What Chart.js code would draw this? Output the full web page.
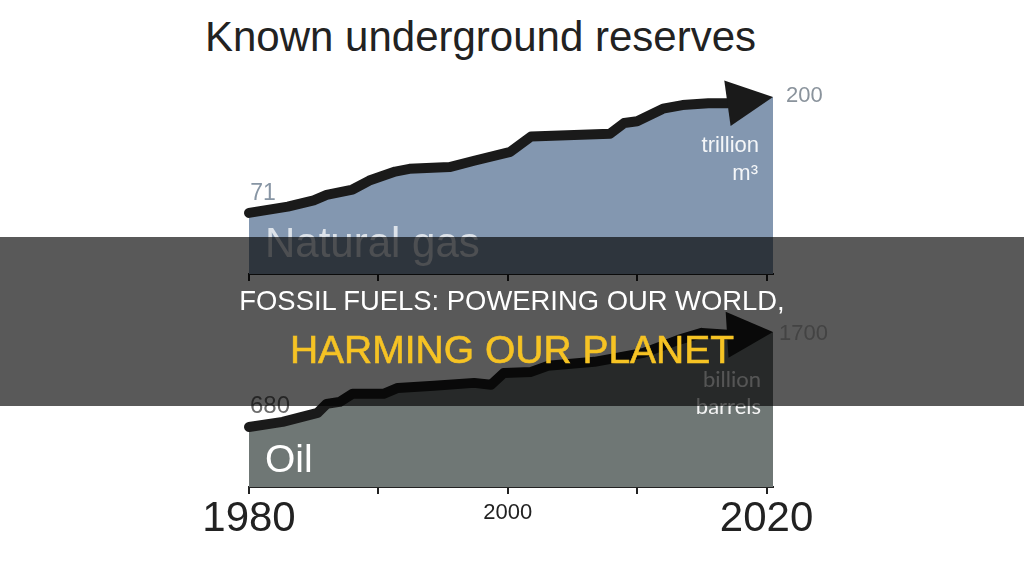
<!DOCTYPE html>
<html>
<head>
<meta charset="utf-8">
<script src="https://cdn.jsdelivr.net/npm/chart.js@4.4.0/dist/chart.umd.min.js"></script>
<style>
  html, body { margin: 0; padding: 0; background: #fff; }
  #wrap { position: relative; width: 1024px; height: 576px; overflow: hidden; background: #fff; }
  canvas { position: absolute; left: 0; }
  #gasChart { top: 0; }
  #oilChart { top: 290px; }
  .title { position: absolute; left: 205px; top: 16px; font: 42px/42px "Liberation Sans", Arial, sans-serif; color: #222; white-space: nowrap; }
  .banner { position: absolute; left: 0; top: 237px; width: 1024px; height: 169px; background: rgba(0,0,0,0.65); }
  .line1, .line2 { position: absolute; left: 0; width: 1024px; text-align: center; font-family: "Liberation Sans", Arial, sans-serif; white-space: nowrap; }
  .line1 { top: 287px; font-size: 27.4px; line-height: 27.4px; color: #fff; }
  .line2 { top: 330px; font-size: 39px; line-height: 39px; color: #f6c324; -webkit-text-stroke: 0.6px #f6c324; }
</style>
</head>
<body>
<div id="wrap">
  <div class="title">Known underground reserves</div>
  <canvas id="gasChart" width="1024" height="290"></canvas>
  <canvas id="oilChart" width="1024" height="286"></canvas>
  <div class="banner"></div>
  <div class="line1">FOSSIL FUELS: POWERING OUR WORLD,</div>
  <div class="line2">HARMING OUR PLANET</div>
</div>
<script>
// x axis
const tickYears = [1980, 1990, 2000, 2010, 2020];
const tickLabels = ['1980', '', '2000', '', '2020'];
const bigYears = [1980, 2020];

// natural gas, trillion m3 (last point = arrow tip)
const gasYears = [1980, 1983, 1985, 1986, 1988, 1989.3, 1991.3, 1992.4, 1995.5, 1997.4, 2000.2, 2001.8, 2007.9, 2009, 2010, 2012, 2013.5, 2015.5, 2017, 2020.5];
const gasValues = [71, 78, 85, 91, 97, 107, 117, 120, 122, 129, 139, 156, 159, 171, 173, 187, 191, 193, 193, 200];

// oil, billion barrels (last point = arrow tip)
const oilYears = [1980, 1982.6, 1985.3, 1986, 1987, 1988, 1990.4, 1991.5, 1994.3, 1997.4, 1998.7, 1999.7, 2001.8, 2003.1, 2006.7, 2010.5, 2013.2, 2015, 2017, 2020.5];
const oilValues = [680, 734, 831, 927, 949, 1035, 1035, 1099, 1121, 1153, 1132, 1260, 1271, 1336, 1379, 1475, 1615, 1690, 1670, 1700];

function toPoints(xs, ys) {
    return xs.map((x, i) => ({ x: x, y: ys[i] }));
}

// arrow head at the end of the line
const arrowPlugin = {
    id: 'arrowHead',
    afterDatasetsDraw(chart) {
        const pts = chart.getDatasetMeta(0).data;
        const tip = pts[pts.length - 1], prev = pts[pts.length - 2];
        const ang = Math.atan2(tip.y - prev.y, tip.x - prev.x);
        const ctx = chart.ctx;
        ctx.save();
        ctx.translate(tip.x, tip.y);
        ctx.rotate(ang);
        ctx.beginPath();
        ctx.moveTo(0, 0);
        ctx.lineTo(-46, -23);
        ctx.lineTo(-46, 23);
        ctx.closePath();
        ctx.fillStyle = '#1a1a1a';
        ctx.fill();
        ctx.restore();
    }
};

// value / unit / name labels, placed relative to the data points
const textPlugin = {
    id: 'textMarks',
    afterDraw(chart, args, opts) {
        const pts = chart.getDatasetMeta(0).data;
        const area = chart.chartArea;
        const ctx = chart.ctx;
        opts.items.forEach(it => {
            let x = area.left, y = area.bottom;
            if (it.at === 'first') { x = pts[0].x; y = pts[0].y; }
            if (it.at === 'last') { x = pts[pts.length - 1].x; y = pts[pts.length - 1].y; }
            ctx.save();
            ctx.font = it.font;
            ctx.fillStyle = it.color;
            ctx.textAlign = it.align || 'left';
            ctx.textBaseline = it.baseline || 'alphabetic';
            ctx.fillText(it.text, x + it.dx, y + it.dy);
            ctx.restore();
        });
    }
};

function xAxis(showLabels) {
    return {
        type: 'linear', min: 1980, max: 2020.5, z: 1,
        afterBuildTicks: s => { s.ticks = tickYears.map(v => ({ value: v })); },
        grid: { drawOnChartArea: false, drawTicks: true, tickLength: 7, color: '#222', lineWidth: 2 },
        border: { display: true, color: '#222', width: 2 },
        ticks: {
            display: showLabels, padding: 0, color: '#222', maxRotation: 0, autoSkip: false,
            callback: v => tickLabels[tickYears.indexOf(v)],
            font: ctx => bigYears.includes(ctx.tick && ctx.tick.value)
                ? { family: '"Liberation Sans", Arial, sans-serif', size: 42, lineHeight: 1.2 }
                : { family: '"Liberation Sans", Arial, sans-serif', size: 22, lineHeight: 1.7 }
        }
    };
}

function makeChart(id, xs, ys, fillColor, yMin, yMax, padding, showLabels, items) {
    return new Chart(document.getElementById(id), {
        type: 'line',
        data: {
            datasets: [{
                // filled area, up to the arrow tip
                data: toPoints(xs, ys),
                borderWidth: 0,
                backgroundColor: fillColor,
                fill: 'start',
                pointRadius: 0,
                tension: 0,
                order: 2
            }, {
                // thick line, ending under the arrow head
                data: toPoints(xs.slice(0, -1), ys.slice(0, -1)),
                borderColor: '#1a1a1a',
                borderWidth: 10,
                borderCapStyle: 'round',
                borderJoinStyle: 'round',
                fill: false,
                pointRadius: 0,
                tension: 0,
                clip: false,
                order: 1
            }]
        },
        options: {
            responsive: false,
            animation: false,
            devicePixelRatio: 1,
            layout: { padding: padding },
            scales: {
                x: xAxis(showLabels),
                y: { display: false, min: yMin, max: yMax }
            },
            plugins: {
                legend: { display: false },
                tooltip: { enabled: false },
                textMarks: { items: items }
            }
        },
        plugins: [arrowPlugin, textPlugin]
    });
}

const sans = '"Liberation Sans", Arial, sans-serif';

makeChart('gasChart', gasYears, gasValues, '#8397b0', 3, 220,
    { left: 249, right: 251, top: 79, bottom: 9 }, false, [
        { at: 'first', text: '71', dx: 14, dy: -19.6, font: '23px ' + sans, color: '#8795a4', align: 'center', baseline: 'middle' },
        { at: 'last', text: '200', dx: 13, dy: -1, font: '22px ' + sans, color: '#8a939c', baseline: 'middle' },
        { at: 'last', text: 'trillion', dx: -14, dy: 54.7, font: '22px ' + sans, color: '#f4f6f8', align: 'right' },
        { at: 'last', text: 'm\u00b3', dx: -15, dy: 83, font: '22px ' + sans, color: '#f4f6f8', align: 'right' },
        { at: 'corner', text: 'Natural gas', dx: 16, dy: -17.3, font: '42px ' + sans, color: '#dde3ea' }
    ]);

makeChart('oilChart', oilYears, oilValues, '#6f7775', 35, 2000,
    { left: 249, right: 251, top: 14, bottom: 31.6 }, true, [
        { at: 'first', text: '680', dx: 1, dy: -21, font: '24px ' + sans, color: '#6b6b6b', baseline: 'middle' },
        { at: 'last', text: '1700', dx: 6, dy: 2, font: '22px ' + sans, color: '#c0c0c0', baseline: 'middle' },
        { at: 'last', text: 'billion', dx: -12, dy: 54.7, font: '22px Lato, "Open Sans", sans-serif', color: '#f4f4f4', align: 'right' },
        { at: 'last', text: 'barrels', dx: -12, dy: 82, font: '22px Lato, "Open Sans", sans-serif', color: '#f4f4f4', align: 'right' },
        { at: 'corner', text: 'Oil', dx: 16, dy: -15.3, font: '39px ' + sans, color: '#ffffff' }
    ]);
</script>
</body>
</html>
